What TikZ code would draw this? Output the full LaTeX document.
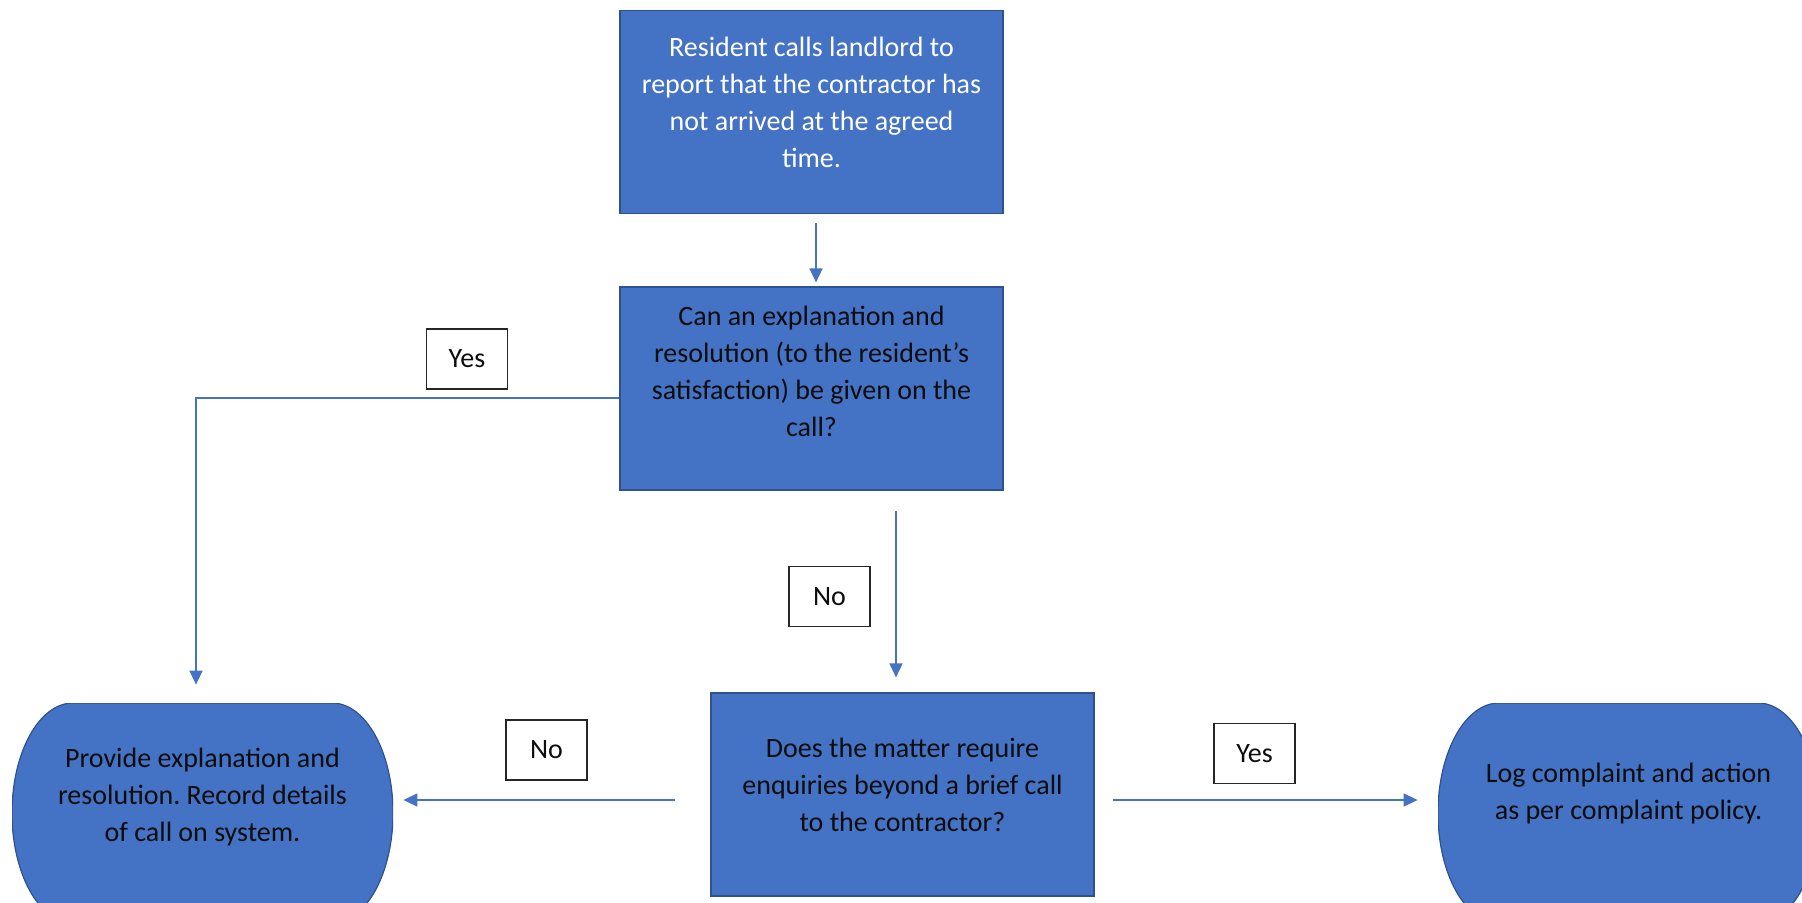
\documentclass[tikz,border=0pt]{standalone}
\usepackage{fontspec}
\setmainfont{Carlito}
\usetikzlibrary{arrows.meta}
\frenchspacing

\definecolor{boxblue}{HTML}{4472C4}
\definecolor{boxedge}{HTML}{2F528F}
\definecolor{lineblue}{HTML}{4472C4}
\definecolor{ink}{HTML}{0D0D0D}
\newcommand{\boxfont}{\fontsize{14pt}{18.5pt}\selectfont}

\tikzset{
  stepbox/.style={rectangle, draw=boxedge, fill=boxblue, line width=0.6pt,
    minimum width=191.5pt, minimum height=101.5pt, inner sep=0pt,
    align=center, font=\boxfont, text=ink},
  termbox/.style={rectangle, minimum width=190.5pt, minimum height=110pt, inner sep=0pt,
    align=center, font=\boxfont, text=ink,
    path picture={\path[fill=boxblue, draw=boxedge, line width=0.6pt]
      (path picture bounding box.north west) ++(30.5pt,0pt) -- ++(129.5pt,0pt)
      arc[start angle=90, end angle=-90, x radius=30.5pt, y radius=55pt] -- ++(-129.5pt,0pt)
      arc[start angle=270, end angle=90, x radius=30.5pt, y radius=55pt] -- cycle;}},
  tagbox/.style={rectangle, draw=black!85, fill=white, line width=0.8pt,
    minimum width=40.5pt, minimum height=30pt, inner sep=0pt, font=\boxfont, text=ink},
  flow/.style={draw=lineblue, line width=0.75pt, -{Triangle[length=7pt,width=6.5pt]}},
  lift/.style={text depth=#1}
}

\begin{document}
\begin{tikzpicture}[x=0.5pt, y=0.5pt]
  \useasboundingbox (0,0) rectangle (1802,-903);

  % boxes
  \node[stepbox, text=white, lift=10pt] (start) at (811.5,-112) {Resident calls landlord to\\ report that the contractor has\\ not arrived at the agreed\\ time.};
  \node[stepbox, lift=17pt] (q1) at (811.5,-388.5) {Can an explanation and\\ resolution (to the resident’s\\ satisfaction) be given on the\\ call?};
  \node[stepbox, lift=10pt] (q2) at (902.5,-794.5) {Does the matter require\\ enquiries beyond a brief call\\ to the contractor?};
  \node[termbox, lift=18.5pt] (provide) at (202.5,-813) {Provide explanation and\\ resolution. Record details\\ of call on system.};
  \node[termbox, lift=22pt] (logact) at (1628.5,-813) {Log complaint and action\\ as per complaint policy.};

  % answers
  \node[tagbox] (yes1) at (467,-359) {Yes};
  \node[tagbox] (no1) at (829.5,-596.5) {No};
  \node[tagbox] (no2) at (546.5,-750) {No};
  \node[tagbox] (yes2) at (1254.5,-753.5) {Yes};

  % connectors
  \draw[flow, shorten <=4.5pt, shorten >=2pt] ([xshift=2.25pt]start.south) -- ([xshift=2.25pt]q1.north);
  \draw[flow, shorten >=9pt] ([yshift=-4.75pt]q1.west) -| ([xshift=-3.25pt]provide.north);
  \draw[flow, shorten <=10pt, shorten >=7.5pt] ([xshift=42.25pt]q1.south) -- ([xshift=-3.25pt]q2.north);
  \draw[flow, shorten <=17.5pt, shorten >=5pt] ([yshift=-2.75pt]q2.west) -- ([yshift=-2.75pt]q2.west -| provide.east);
  \draw[flow, shorten <=9pt, shorten >=10pt] ([yshift=-2.75pt]q2.east) -- ([yshift=-2.75pt]q2.east -| logact.west);
\end{tikzpicture}
\end{document}
